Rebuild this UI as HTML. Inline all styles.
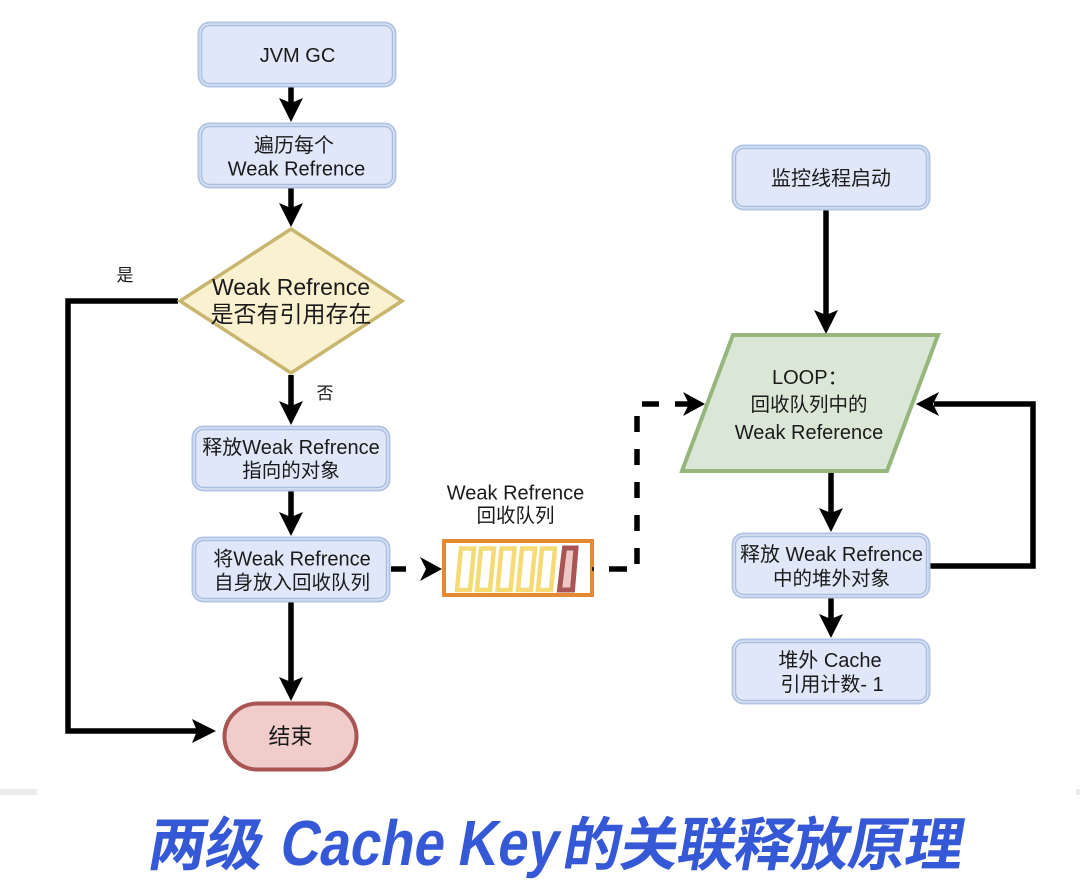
<!DOCTYPE html>
<html><head><meta charset="utf-8"><style>
html,body{margin:0;padding:0;background:#fff;width:1080px;height:884px;overflow:hidden}
svg{display:block}
text{font-family:"Liberation Sans","Noto Sans CJK SC",sans-serif;fill:#1a1a1a;font-size:20px;text-anchor:middle}
.c{font-size:19.500px}
.n{fill:#dfe7f9;stroke:#b3c5e4;stroke-width:2}
.i{fill:none;stroke:#a9bddd;stroke-width:1.500}
.l{fill:none;stroke:#000;stroke-width:5.500}
.a{fill:#000;stroke:none}
.q{fill:none;stroke:#f4db76;stroke-width:4.500}
.t{fill:#3558d6;text-anchor:start;font-weight:bold}
</style></head><body>
<svg width="1080" height="884" viewBox="0 0 1080 884" xmlns="http://www.w3.org/2000/svg">
<rect x="0" y="789" width="37" height="6" fill="#ebebeb"/>
<rect x="1076" y="789" width="4" height="6" fill="#ebebeb"/>

<path class="l" d="M291 87V106"/><path class="a" d="M291 122L279 98L291 103L303 98Z"/>
<path class="l" d="M291 188V209"/><path class="a" d="M291 227L279 203L291 208L303 203Z"/>
<path class="l" d="M291 375V406"/><path class="a" d="M291 425L279 401L291 406L303 401Z"/>
<path class="l" d="M291 491V518"/><path class="a" d="M291 536L279 512L291 517L303 512Z"/>
<path class="l" d="M291 602V684"/><path class="a" d="M291 701L279 677L291 682L303 677Z"/>
<path class="l" d="M178 301H68V731H198"/><path class="a" d="M216 731L192 719L197 731L192 743Z"/>

<path class="l" d="M826 210V316"/><path class="a" d="M826 334L814 310L826 315L838 310Z"/>
<path class="l" d="M831 472V514"/><path class="a" d="M831 532L819 508L831 513L843 508Z"/>
<path class="l" d="M831 598V620"/><path class="a" d="M831 638L819 614L831 619L843 614Z"/>
<path class="l" d="M930 566H1033V404H934"/><path class="a" d="M916 404L939 392L933 404L939 416Z"/>

<path class="l" d="M391 569H406"/>
<path class="a" d="M442 569L420 557L426 569L420 581Z"/>
<path class="l" d="M609 569H627"/>
<path class="l" d="M637 548V564M637 515V531M637 482V498M637 449V465M637 416V432M642 404H659M675 404H692"/>
<path class="a" d="M705 404L683 392L689 404L683 416Z"/>

<rect class="n" x="198.500" y="22.500" width="197" height="64" rx="11"/><rect class="i" x="201.500" y="25.500" width="191" height="58" rx="8"/>
<text x="297.500" y="62">JVM GC</text>
<rect class="n" x="198.500" y="123.500" width="197" height="64" rx="11"/><rect class="i" x="201.500" y="126.500" width="191" height="58" rx="8"/>
<text x="294" y="152">遍历每个</text><text x="296.500" y="175.500">Weak Refrence</text>

<path d="M291 229L402 301L291 373L180 301Z" fill="#f9f1d0" stroke="#c8b56f" stroke-width="3.500"/>
<text x="291" y="295" style="font-size:23px">Weak Refrence</text>
<text x="291" y="322" style="font-size:23px">是否有引用存在</text>
<text x="125" y="281" style="font-size:17px">是</text>
<text x="325" y="399" style="font-size:17px">否</text>

<rect class="n" x="192.500" y="426.500" width="197" height="64" rx="11"/><rect class="i" x="195.500" y="429.500" width="191" height="58" rx="8"/>
<text x="291" y="454">释放Weak Refrence</text><text class="c" x="291" y="477">指向的对象</text>
<rect class="n" x="192.500" y="537.500" width="197" height="64" rx="11"/><rect class="i" x="195.500" y="540.500" width="191" height="58" rx="8"/>
<text x="292" y="565.500">将Weak Refrence</text><text class="c" x="292" y="589">自身放入回收队列</text>

<rect x="224.500" y="703.500" width="132" height="66" rx="33" fill="#f0cdcb" stroke="#a85553" stroke-width="4"/>
<text x="290.500" y="744" style="font-size:22px">结束</text>

<text x="515.500" y="499.500">Weak Refrence</text><text class="c" x="515.500" y="522">回收队列</text>
<rect x="444" y="541" width="148" height="54" fill="#fff" stroke="#e38a33" stroke-width="4"/>
<path class="q" d="M461 548.500H474L470 590H457Z"/>
<path class="q" d="M481 548.500H494L490 590H477Z"/>
<path class="q" d="M501.500 548.500H514.500L510.500 590H497.500Z"/>
<path class="q" d="M522 548.500H535L531 590H518Z"/>
<path class="q" d="M542 548.500H555L551 590H538Z"/>
<path d="M564.500 548H576L572.500 590H559.500Z" fill="#ecc9c6" stroke="#a85553" stroke-width="5"/>
<rect x="592" y="567" width="2" height="4" fill="#222"/>

<rect class="n" x="732.500" y="145.500" width="197" height="64" rx="11"/><rect class="i" x="735.500" y="148.500" width="191" height="58" rx="8"/>
<text x="831" y="185">监控线程启动</text>

<path d="M682 471L733 335H938L887 471Z" fill="#dbe7d6" stroke="#96b67e" stroke-width="4"/>
<text x="772" y="384" style="text-anchor:start">LOOP：</text><text class="c" x="809" y="411">回收队列中的</text><text x="809" y="439">Weak Reference</text>

<rect class="n" x="732.500" y="533.500" width="197" height="64" rx="11"/><rect class="i" x="735.500" y="536.500" width="191" height="58" rx="8"/>
<text x="831.500" y="561">释放 Weak Refrence</text><text class="c" x="831.500" y="585">中的堆外对象</text>
<rect class="n" x="732.500" y="639.500" width="197" height="64" rx="11"/><rect class="i" x="735.500" y="642.500" width="191" height="58" rx="8"/>
<text x="830" y="667">堆外 Cache</text><text x="832" y="691">引用计数- 1</text>

<text class="t" transform="translate(146 865) skewX(-10)" style="font-size:58px;letter-spacing:-1px;font-family:'Noto Sans CJK SC',sans-serif">两级</text>
<text class="t" transform="translate(278 865) skewX(-10)" textLength="164" lengthAdjust="spacingAndGlyphs" style="font-size:64px">Cache</text>
<text class="t" transform="translate(456 865) skewX(-10)" textLength="100" lengthAdjust="spacingAndGlyphs" style="font-size:64px">Key</text>
<text class="t" transform="translate(561 865) skewX(-10)" style="font-size:58px;letter-spacing:-1px;font-family:'Noto Sans CJK SC',sans-serif">的关联释放原理</text>
</svg>
</body></html>
